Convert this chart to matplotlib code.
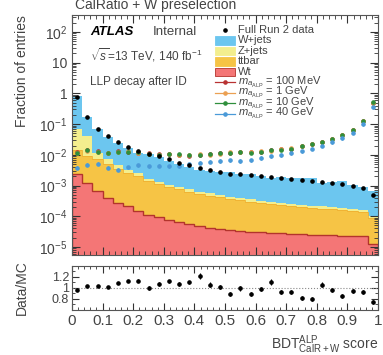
import matplotlib
matplotlib.use('Agg')
import matplotlib.pyplot as plt
import numpy as np
from matplotlib.patches import Rectangle
from matplotlib.ticker import FuncFormatter, LogLocator, MultipleLocator, FixedLocator, NullFormatter

plt.rcParams['font.family'] = ['Liberation Sans', 'DejaVu Sans']
plt.rcParams['mathtext.fontset'] = 'custom'
plt.rcParams['mathtext.rm'] = 'Liberation Sans'
plt.rcParams['mathtext.it'] = 'Liberation Sans:italic'
plt.rcParams['mathtext.bf'] = 'Liberation Sans:bold'

# 30 bins of BDT score, fraction of entries per bin
n_bins = 30
wjets = [0.74, 0.126, 0.056, 0.0318, 0.0192, 0.0129, 0.0092, 0.0093, 0.0070, 0.0052,
         0.0041, 0.0033, 0.00246, 0.0024, 0.00226, 0.00225, 0.0019, 0.0021, 0.00177, 0.00145,
         0.00163, 0.00152, 0.00158, 0.00152, 0.00102, 0.0011, 0.00117, 0.00085, 0.00073, 0.00055]
zjets = [5.7e-2, 3.1e-2, 4.6e-3, 2.1e-3, 1.25e-3, 6.8e-4, 5.1e-4, 2.8e-4, 2.2e-4, 1.6e-4,
         1.3e-4, 1.1e-4, 9e-5, 8e-5, 7e-5, 6.5e-5, 5.8e-5, 5.2e-5, 4.8e-5, 4.4e-5,
         4.1e-5, 3.8e-5, 3.6e-5, 3.3e-5, 3.1e-5, 2.9e-5, 2.7e-5, 2.5e-5, 2.4e-5, 1.6e-5]
ttbar = [1.18e-2, 7.7e-3, 6.4e-3, 4.6e-3, 3.3e-3, 2.4e-3, 1.85e-3, 1.27e-3, 1.01e-3, 8.1e-4,
         6.8e-4, 5.8e-4, 4.9e-4, 4.3e-4, 3.8e-4, 3.35e-4, 3.0e-4, 2.7e-4, 2.45e-4, 2.2e-4,
         2.07e-4, 1.93e-4, 1.78e-4, 1.65e-4, 1.53e-4, 1.42e-4, 1.31e-4, 1.22e-4, 1.13e-4, 7.7e-5]
wt = [2.29e-3, 1.23e-3, 6.5e-4, 4.0e-4, 2.7e-4, 2.1e-4, 1.45e-4, 1.12e-4, 9.1e-5, 7.8e-5,
      6.3e-5, 5.5e-5, 4.8e-5, 4.2e-5, 3.8e-5, 3.5e-5, 3.2e-5, 3.1e-5, 2.95e-5, 2.8e-5,
      2.75e-5, 2.6e-5, 2.55e-5, 2.5e-5, 2.45e-5, 2.4e-5, 2.35e-5, 2.3e-5, 2.2e-5, 1.2e-5]
data = [0.78, 0.17, 0.069, 0.040, 0.026, 0.018, 0.0132, 0.011, 0.0089, 0.0071,
        0.0054, 0.0045, 0.0038, 0.0032, 0.0028, 0.0024, 0.0023, 0.0022, 0.0020, 0.00195,
        0.0018, 0.00166, 0.00148, 0.00138, 0.00129, 0.00123, 0.00115, 0.00095, 0.00083, 0.00048]
sig_100mev = [0.0120, 0.0141, 0.0132, 0.0112, 0.0132, 0.0126, 0.0117, 0.0112, 0.0105, 0.0107,
              0.0100, 0.0093, 0.0100, 0.0105, 0.0112, 0.0117, 0.0126, 0.0120, 0.0126, 0.0141,
              0.0151, 0.0158, 0.0191, 0.0224, 0.0263, 0.0331, 0.0447, 0.0631, 0.126, 0.50]
sig_1gev = [0.0115, 0.0135, 0.0128, 0.0118, 0.0125, 0.0130, 0.0112, 0.0110, 0.0100, 0.0103,
            0.0097, 0.0098, 0.0104, 0.0101, 0.0108, 0.0120, 0.0122, 0.0125, 0.0130, 0.0138,
            0.0155, 0.0162, 0.0188, 0.0220, 0.0270, 0.0325, 0.0440, 0.0620, 0.122, 0.48]
sig_10gev = [0.0118, 0.0145, 0.0125, 0.0115, 0.0128, 0.0122, 0.0120, 0.0108, 0.0102, 0.0110,
             0.0104, 0.0095, 0.0098, 0.0110, 0.0115, 0.0114, 0.0124, 0.0118, 0.0128, 0.0145,
             0.0148, 0.0160, 0.0195, 0.0228, 0.0268, 0.0338, 0.0455, 0.0650, 0.130, 0.52]
sig_40gev = [0.0038, 0.0048, 0.0052, 0.0038, 0.0033, 0.0040, 0.0045, 0.0042, 0.0044, 0.0043,
             0.0042, 0.0050, 0.0056, 0.0060, 0.0063, 0.0066, 0.0063, 0.0066, 0.0079, 0.0089,
             0.0100, 0.0112, 0.0132, 0.0158, 0.0200, 0.0263, 0.0355, 0.0525, 0.100, 0.355]
ratio = [0.96, 1.03, 1.03, 1.02, 1.09, 1.12, 1.13, 1.00, 1.07, 1.12,
         1.07, 1.10, 1.22, 1.06, 1.02, 0.89, 0.99, 0.89, 0.98, 1.11,
         0.93, 0.93, 0.82, 0.80, 1.06, 0.96, 0.85, 0.94, 0.93, 0.74]
ratio_err = [0.02, 0.02, 0.02, 0.02, 0.02, 0.02, 0.03, 0.03, 0.03, 0.03,
             0.03, 0.03, 0.05, 0.04, 0.04, 0.04, 0.04, 0.04, 0.04, 0.05,
             0.04, 0.04, 0.04, 0.04, 0.05, 0.04, 0.04, 0.04, 0.04, 0.04]
sig_rel_err = 0.12

c_w, c_z, c_tt, c_wt = '#6cc6ef', '#f3ee8e', '#f6c445', '#f47676'
c_wt_line = '#b3342c'
sig_cols = ['#b83232', '#eba052', '#2f8f3c', '#4a9ad8']

edges = np.linspace(0, 1, n_bins + 1)
centres = 0.5 * (edges[1:] + edges[:-1])

fig = plt.figure(figsize=(3.83, 3.55), dpi=100)
ax = fig.add_axes([0.188, 0.282, 0.799, 0.676])
rax = fig.add_axes([0.188, 0.127, 0.799, 0.124])

ax.set_yscale('log')
stack = np.cumsum([wt, ttbar, zjets, wjets], axis=0)
base = np.full(n_bins, 1e-8)
for top, col in zip(stack, [c_wt, c_tt, c_z, c_w]):
    ax.stairs(top, edges, baseline=base, fill=True, color=col, lw=0)
    base = top
ax.stairs(stack[0], edges, color=c_wt_line, lw=1.0)
ax.stairs(stack[1], edges, color='#f0b030', lw=0.6)

sig_all = [sig_100mev, sig_1gev, sig_10gev, sig_40gev]
for vals, col in zip(sig_all, sig_cols):
    v = np.array(vals)
    ax.errorbar(centres, v, yerr=v * sig_rel_err, fmt='o', color=col, ms=2.3,
                elinewidth=0.8, capsize=0, zorder=4)

d = np.array(data)
ax.errorbar(centres, d, yerr=d * np.array(ratio_err) / np.array(ratio), fmt='o', color='black',
            ms=2.3, elinewidth=0.8, capsize=0, zorder=5)

ax.set_xlim(0, 1)
ax.set_ylim(5.5e-6, 3.6e2)


def log_fmt(v, pos):
    e = int(round(np.log10(v)))
    if e == 0:
        return '1'
    if e == 1:
        return '10'
    return r'$10^{%d}$' % e


ax.yaxis.set_major_locator(LogLocator(base=10, numticks=20))
ax.yaxis.set_minor_locator(LogLocator(base=10, subs=np.arange(2, 10), numticks=20))
ax.yaxis.set_major_formatter(FuncFormatter(log_fmt))
ax.yaxis.set_minor_formatter(NullFormatter())
ax.xaxis.set_major_locator(MultipleLocator(0.1))
ax.xaxis.set_minor_locator(MultipleLocator(0.02))
ax.tick_params(which='both', direction='in', top=True, right=True, labelbottom=False,
               labelsize=10, colors='#333333', labelcolor='#444444')
ax.tick_params(which='major', length=6)
ax.tick_params(which='minor', length=3)
for s in ax.spines.values():
    s.set_color('#555555')

# ratio panel
rax.errorbar(centres, ratio, yerr=ratio_err, fmt='o', color='black', ms=2.3,
             elinewidth=0.8, capsize=0)
rax.axhline(1.0, ls=':', color='#888888', lw=0.8)
rax.set_xlim(0, 1)
rax.set_ylim(0.6, 1.4)
rax.yaxis.set_major_locator(FixedLocator([0.8, 1.0, 1.2]))
rax.yaxis.set_major_formatter(FuncFormatter(lambda v, p: '%g' % round(v, 1)))
rax.yaxis.set_minor_locator(MultipleLocator(0.1))
rax.xaxis.set_major_locator(MultipleLocator(0.1))
rax.xaxis.set_minor_locator(MultipleLocator(0.02))
rax.xaxis.set_major_formatter(FuncFormatter(lambda v, p: '%g' % round(v, 1)))
rax.tick_params(which='both', direction='in', top=True, right=True, labelsize=9,
                colors='#333333', labelcolor='#444444')
rax.tick_params(axis='y', pad=2)
rax.tick_params(axis='x', labelsize=11, pad=3)
rax.tick_params(which='major', length=5)
rax.tick_params(which='minor', length=2.5)
for s in rax.spines.values():
    s.set_color('#555555')
rax.set_xlabel(r'BDT$^{\rm ALP}_{\rm CalR+W}$ score', fontsize=10, ha='right', x=1.0,
               labelpad=4, color='#444444')

W, H = 383.0, 355.0
fig.text(22 / W, 1 - 15 / H, 'Fraction of entries', rotation=90, ha='center', va='top',
         fontsize=10, color='#444444')
fig.text(22 / W, 1 - 288 / H, 'Data/MC', rotation=90, ha='center', va='center',
         fontsize=10, color='#444444')
fig.text(75 / W, 1 - 9 / H, 'CalRatio + W preselection', ha='left', va='baseline',
         fontsize=10, color='#444444')


def fx(px):
    return (px - 72) / 306.0


def fy(py):
    return (255 - py) / 240.0


ax.text(fx(90), fy(32), 'ATLAS', fontsize=9.5, fontweight='bold', style='italic',
        va='center', transform=ax.transAxes)
ax.text(fx(153), fy(32), 'Internal', fontsize=9.5, va='center', transform=ax.transAxes,
        color='#444444')
ax.text(fx(90), fy(55), r'$\sqrt{s}$=13 TeV, 140 fb$^{-1}$', fontsize=8.5, va='center',
        transform=ax.transAxes, color='#444444')
ax.text(fx(90), fy(82), 'LLP decay after ID', fontsize=8.5, va='center',
        transform=ax.transAxes, color='#444444')

# legend
leg_labels = ['Full Run 2 data', 'W+jets', 'Z+jets', 'ttbar', 'Wt',
              r'$m_{a_{\rm ALP}}$ = 100 MeV', r'$m_{a_{\rm ALP}}$ = 1 GeV',
              r'$m_{a_{\rm ALP}}$ = 10 GeV', r'$m_{a_{\rm ALP}}$ = 40 GeV']
box_cols = [c_w, c_z, c_tt, c_wt]
for i, lab in enumerate(leg_labels):
    yy = 30 + 10.5 * i
    if i == 0:
        ax.plot([fx(225)], [fy(yy)], 'o', color='black', ms=2.3, transform=ax.transAxes,
                clip_on=False)
    elif i <= 4:
        ax.add_patch(Rectangle((fx(215), fy(yy + 4.3)), 20 / 306.0, 8.6 / 240.0,
                               transform=ax.transAxes, facecolor=box_cols[i - 1],
                               edgecolor=c_wt_line if i == 4 else box_cols[i - 1], lw=0.6))
    else:
        col = sig_cols[i - 5]
        ax.plot([fx(215), fx(235)], [fy(yy), fy(yy)], '-', color=col, lw=0.9,
                transform=ax.transAxes)
        ax.plot([fx(225)], [fy(yy)], 'o', color=col, ms=2.3, transform=ax.transAxes)
    ax.text(fx(238), fy(yy), lab, fontsize=8, va='center', transform=ax.transAxes,
            color='#444444')

fig.savefig('out.png', dpi=100)
